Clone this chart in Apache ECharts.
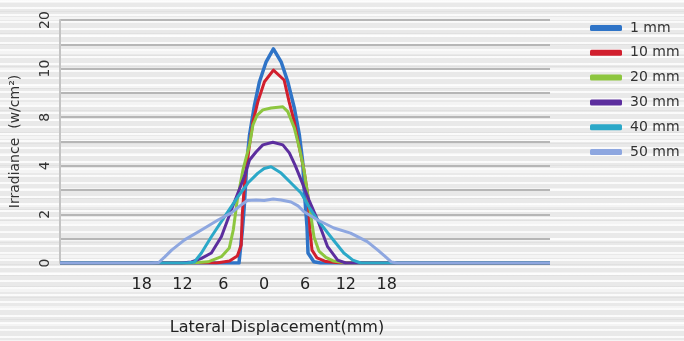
<!DOCTYPE html>
<html>
<head>
<meta charset="utf-8">
<script src="https://cdn.jsdelivr.net/npm/echarts@6/dist/echarts.min.js"></script>
<style>
  html, body { margin: 0; padding: 0; }
  body {
    width: 684px; height: 341px; overflow: hidden;
    background:
      repeating-linear-gradient(180deg, rgba(255,255,255,0.8) 0 2px, transparent 2px 7px),
      repeating-linear-gradient(180deg, rgba(200,200,200,0.25) 0 1px, transparent 1px 11px),
      repeating-linear-gradient(180deg, rgba(255,255,255,0.5) 0 3px, transparent 3px 17px),
      #e9e9e9;
  }
  #chart { width: 684px; height: 341px; }
</style>
</head>
<body>
<div id="chart"></div>
<script>
// axis units on y: gridline index 0..10, labelled 0,2,4,8,10,20 on the even ones
const yTickLabels = ['0', '', '2', '', '4', '', '8', '', '10', '', '20'];
const seriesNames = ['1 mm', '10 mm', '20 mm', '30 mm', '40 mm', '50 mm'];
const seriesColors = ['#2f74c7', '#d11f2e', '#8dc63f', '#5c2e9e', '#2ba8c8', '#8ea7e0'];

// [lateral displacement (mm), irradiance in axis units]
const d1mm = [[-30, 0], [-3.7, 0], [-3.2, 1.36], [-2.93, 2.3], [-2.53, 4.17], [-2.15, 5.27], [-1.42, 6.5],
  [-0.69, 7.46], [0.29, 8.28], [1.36, 8.81], [2.49, 8.28], [3.47, 7.46], [4.43, 6.38], [5.17, 5.27],
  [5.66, 4.17], [5.85, 3.13], [6.3, 1.48], [6.44, 0.41], [7.3, 0.05], [8.3, 0], [42, 0]];
const d10mm = [[-30, 0], [-7.0, 0], [-5.1, 0.08], [-3.95, 0.29], [-3.37, 0.74], [-3.22, 1.98], [-2.85, 3.42],
  [-2.15, 4.86], [-1.65, 5.81], [-0.92, 6.64], [0.04, 7.46], [1.36, 7.94], [2.93, 7.53], [3.66, 6.64],
  [4.43, 5.81], [5.17, 4.73], [5.85, 3.83], [6.4, 2.8], [6.73, 1.36], [7.03, 0.53], [7.76, 0.21],
  [9.08, 0.06], [11.3, 0], [42, 0]];
const d20mm = [[-30, 0], [-10.7, 0], [-8.24, 0.05], [-6.29, 0.26], [-5.12, 0.62], [-4.54, 1.36], [-3.95, 2.59],
  [-3.12, 3.83], [-2.15, 4.86], [-1.65, 5.68], [-1.02, 6.09], [-0.19, 6.3], [1.02, 6.38], [2.74, 6.43],
  [3.47, 6.23], [4.43, 5.56], [5.17, 4.73], [5.85, 3.83], [6.59, 2.47], [7.32, 1.07], [8.05, 0.49],
  [9.08, 0.23], [10.2, 0.08], [12, 0], [42, 0]];
const d30mm = [[-30, 0], [-12.15, 0], [-10.7, 0.04], [-9.22, 0.19], [-7.76, 0.41], [-6.29, 1.08], [-4.83, 2.18],
  [-3.8, 2.92], [-2.93, 3.55], [-2.15, 4.24], [-1.17, 4.58], [-0.19, 4.86], [1.27, 4.97], [2.74, 4.86],
  [3.7, 4.53], [4.54, 4.03], [5.42, 3.42], [6.59, 2.59], [7.86, 1.77], [9.32, 0.67], [10.8, 0.12],
  [12, 0], [42, 0]];
const d40mm = [[-30, 0], [-11.4, 0], [-10.25, 0.04], [-9.22, 0.41], [-7.76, 1.08], [-5.81, 1.91], [-3.85, 2.73],
  [-2.39, 3.29], [-0.92, 3.7], [0, 3.89], [1.02, 3.96], [2.49, 3.7], [3.95, 3.29], [5.42, 2.88],
  [6.59, 2.3], [7.86, 1.77], [9.81, 1.07], [11.7, 0.41], [13.03, 0.12], [14.2, 0], [42, 0]];
const d50mm = [[-30, 0], [-16.5, 0], [-15.5, 0.02], [-14.6, 0.25], [-13.6, 0.53], [-11.7, 0.95], [-9.22, 1.36],
  [-6.78, 1.77], [-4.83, 2.06], [-3.37, 2.39], [-2.49, 2.57], [-1.17, 2.59], [0, 2.57], [1.32, 2.63],
  [2.49, 2.59], [3.95, 2.51], [4.98, 2.35], [5.85, 2.11], [7.86, 1.77], [10.25, 1.44], [12.7, 1.23],
  [15.15, 0.88], [16.7, 0.53], [17.85, 0.25], [18.7, 0.04], [19.5, 0], [42, 0]];

const seriesData = [d1mm, d10mm, d20mm, d30mm, d40mm, d50mm];

const chart = echarts.init(document.getElementById('chart'), null, { renderer: 'canvas' });

chart.setOption({
  backgroundColor: 'transparent',
  animation: false,
  textStyle: { fontFamily: 'DejaVu Sans' },
  grid: { left: 58, right: 134, top: 20, bottom: 78 },
  legend: {
    orient: 'vertical',
    left: 590,
    top: 21,
    width: 94,
    padding: 0,
    icon: 'roundRect',
    itemWidth: 32,
    itemHeight: 6,
    itemGap: 10.8,
    textStyle: { fontSize: 14, color: '#333', padding: [0, 0, 0, 3], overflow: 'none' },
    data: seriesNames
  },
  xAxis: {
    type: 'value',
    min: -30,
    max: 42,
    interval: 6,
    axisLine: { show: false },
    axisTick: { show: false },
    splitLine: { show: false },
    axisLabel: {
      fontSize: 16,
      color: '#222',
      margin: 14,
      formatter: v => (Math.abs(v) <= 18 ? String(Math.abs(v)) : '')
    },
    name: 'Lateral Displacement(mm)',
    nameLocation: 'middle',
    nameGap: 57,
    nameTextStyle: { fontSize: 16, color: '#222', padding: [0, 56, 0, 0] }
  },
  yAxis: {
    type: 'value',
    min: 0,
    max: 10,
    interval: 1,
    axisLine: { show: true, onZero: false, lineStyle: { color: '#c4c4c4', width: 2 } },
    axisTick: { show: false },
    splitLine: { show: true, lineStyle: { color: '#b6b6b6', width: 2 } },
    axisLabel: {
      fontSize: 14,
      color: '#333',
      rotate: 90,
      margin: 8,
      formatter: v => yTickLabels[Math.round(v)] || ''
    },
    name: 'Irradiance  (w/cm²)',
    nameLocation: 'middle',
    nameRotate: 90,
    nameGap: 38,
    nameTextStyle: { fontSize: 14, color: '#333' }
  },
  series: seriesNames.map((name, i) => ({
    name,
    type: 'line',
    data: seriesData[i],
    showSymbol: false,
    smooth: false,
    lineStyle: { color: seriesColors[i], width: i === 0 ? 3.5 : 3, join: 'round' },
    itemStyle: { color: seriesColors[i] }
  }))
});
</script>
</body>
</html>
